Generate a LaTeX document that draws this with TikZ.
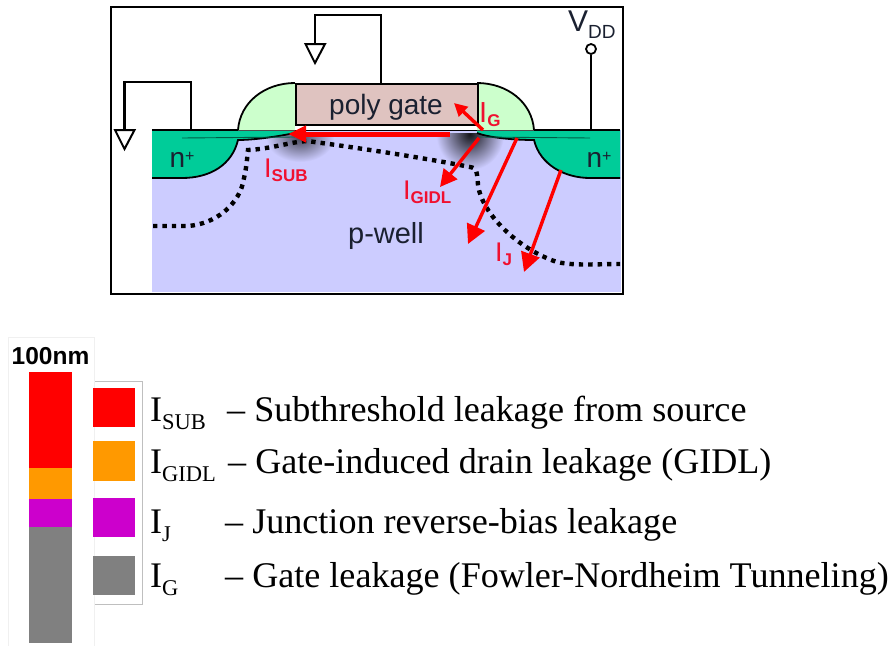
\documentclass[tikz,border=0pt]{standalone}
\usepackage{fontspec}
\setmainfont{Liberation Serif}
\setsansfont{Liberation Sans}
\usetikzlibrary{arrows.meta}
\definecolor{well}{HTML}{CCCCFF}
\definecolor{nplus}{HTML}{00CC99}
\definecolor{spacer}{HTML}{CCFFCC}
\definecolor{poly}{HTML}{DFC3C0}
\definecolor{cred}{HTML}{FF0000}
\definecolor{corange}{HTML}{FF9900}
\definecolor{cpurple}{HTML}{CC00CC}
\definecolor{cgray}{HTML}{808080}
\definecolor{lab}{HTML}{1A2030}
\definecolor{rlab}{HTML}{F01030}
\newcommand{\legI}[1]{\fontsize{36}{36}\selectfont I\raisebox{-8pt}{\fontsize{22.5}{22.5}\selectfont #1}}
\newcommand{\curI}[2]{\textcolor{rlab}{\sffamily\fontsize{#2}{#2}\selectfont I\raisebox{-4pt}{\fontsize{17}{17}\selectfont\textbf{#1}}}}
\tikzset{
  x=1pt,y=-1pt,
  wire/.style={draw=black,line width=2.5pt},
  edge/.style={draw=black,line width=1.8pt},
  curr/.style={draw=red,line width=3.4pt,-{Triangle[length=17pt,width=17pt]}},
  gnd/.style={draw=black,line width=2pt,fill=white,line join=miter},
  devlab/.style={text=lab,font=\sffamily\fontsize{28}{28}\selectfont,inner sep=0pt,anchor=base},
  swatch/.style={minimum width=42pt,minimum height=39pt,inner sep=0pt,anchor=north west,draw=none},
  leg/.style={anchor=base west,inner sep=0pt,text=black,font=\fontsize{36.1}{36.1}\selectfont},
}
\begin{document}
\begin{tikzpicture}
\useasboundingbox (0,0) rectangle (896,645);
\fill[white] (0,0) rectangle (896,645);
% frame
\node[draw=black,line width=2.2pt,fill=white,minimum width=512pt,minimum height=287pt,inner sep=0pt,anchor=north west] (frame) at (110,6) {};
% well
\fill[well] (152,130) rectangle (621,292);
% leak shadows
\begin{scope}
\clip (152,133) rectangle (621,292);
\shade[inner color=black!65!well,outer color=well] (300,138) ellipse (34 and 24);
\shade[inner color=black!90!well,outer color=well] (470,134) ellipse (34 and 36);
\end{scope}
% n+ regions
\fill[nplus] (152,130) -- (295,130) -- (295,133) .. controls (270,138) and (250,140) .. (238,140)
  .. controls (232,165) and (210,178) .. (182,178) -- (152,178) -- cycle;
\fill[nplus] (620,130) -- (477,130) -- (477,133) .. controls (490,138) and (515,140) .. (534,140)
  .. controls (540,165) and (565,178) .. (590,178) -- (620,178) -- cycle;
\draw[edge] (295,133) .. controls (270,138) and (250,140) .. (238,140) .. controls (232,165) and (210,178) .. (182,178) -- (152,178);
\draw[edge] (477,133) .. controls (490,138) and (515,140) .. (534,140) .. controls (540,165) and (565,178) .. (590,178) -- (620,178);
\draw[draw=black!55!nplus,line width=0.9pt] (182,138) -- (295,137);
\draw[draw=black!55!nplus,line width=0.9pt] (480,137) -- (590,138);
% spacers
\fill[spacer] (238,130) .. controls (240,102) and (265,83) .. (295,83) -- (295,130) -- cycle;
\fill[spacer] (534,130) .. controls (532,102) and (507,83) .. (477,83) -- (477,130) -- cycle;
\draw[edge] (238,130) .. controls (240,102) and (265,83) .. (295,83);
\draw[edge] (534,130) .. controls (532,102) and (507,83) .. (477,83);
% gate
\fill[white] (295,124) rectangle (477,130.5);
\node[draw=black,line width=2.2pt,fill=poly,minimum width=182pt,minimum height=41pt,inner sep=0pt,anchor=north west] (gate) at (295,83) {};
% surface lines
\draw[edge,line width=2.2pt] (152,130) -- (238,130);
\draw[edge,line width=2.2pt] (534,130) -- (620,130);
\draw[draw=black!70,line width=1pt] (238,130.5) -- (295,130.5) (477,130.5) -- (534,130.5);
\draw[draw=black,line width=1.2pt] (295,130.5) -- (477,130.5);
% wires
\coordinate (s1) at (191,130);
\coordinate (s2) at (124.5,130);
\draw[wire,line join=miter] (s1) -- (191,82) -- (124.5,82) -- (s2);
\draw[gnd] (115,130) -- (134.5,130) -- (124.5,149) -- cycle;
\coordinate (g1) at (381,83);
\coordinate (g2) at (315,44);
\draw[wire,line join=miter] (g1) -- (381,15) -- (315,15) -- (g2);
\draw[gnd] (305.5,44) -- (325,44) -- (315,63) -- cycle;
\coordinate (d1) at (591,130);
\node[circle,draw=black,line width=1.8pt,fill=white,minimum size=10pt,inner sep=0pt] (vdd) at (591,49) {};
\draw[wire] (d1) -- (vdd);
% dotted boundary
\draw[line width=4.4pt,dash pattern=on 4.4pt off 5pt,draw=black]
  (153,226) -- (188,226) .. controls (215,224) and (240,205) .. (244,178)
  .. controls (247,165) and (247,158) .. (248,150)
  .. controls (270,149) and (290,142) .. (307,141)
  .. controls (345,146) and (420,157) .. (470,167)
  .. controls (477,168) and (477,172) .. (478,185)
  .. controls (482,215) and (520,250) .. (557,262)
  .. controls (575,266) and (595,264) .. (620,264);
% currents
\coordinate (isub0) at (450,134); \coordinate (isub1) at (288,134);
\draw[curr,line width=5pt,-{Triangle[length=18pt,width=16pt]}] (isub0) -- (isub1);
\coordinate (ig0) at (483,130); \coordinate (ig1) at (454,103);
\coordinate (igi0) at (479,138); \coordinate (igi1) at (440,187);
\coordinate (ij0) at (517,138); \coordinate (ij1) at (468,244);
\coordinate (ik0) at (561,170); \coordinate (ik1) at (524,272);
\draw[curr,-{Triangle[length=13pt,width=13pt]}] (ig0) -- (ig1);
\draw[curr,-{Triangle[length=17pt,width=17pt]}] (igi0) -- (igi1);
\draw[curr,-{Triangle[length=19pt,width=19pt]}] (ij0) -- (ij1);
\draw[curr,-{Triangle[length=19pt,width=19pt]}] (ik0) -- (ik1);
% device labels
\node[devlab] (polyl) at (386,114) {poly gate};
\node[devlab] (n1) at (182,167) {n\raisebox{6pt}{\fontsize{16}{16}\selectfont +}};
\node[devlab] (n2) at (599,167) {n\raisebox{6pt}{\fontsize{16}{16}\selectfont +}};
\node[devlab,font=\sffamily\fontsize{29}{29}\selectfont] (pw) at (386,243) {p-well};
\node[anchor=base west,inner sep=0pt] (vddl) at (568,31) {\color{lab}\sffamily\fontsize{30}{30}\selectfont V\raisebox{-7pt}{\fontsize{19}{19}\selectfont DD}};
\node[anchor=base west,inner sep=0pt] (lsub) at (264,177) {\curI{SUB}{27}};
\node[anchor=base west,inner sep=0pt] (lgidl) at (403,199) {\curI{GIDL}{27}};
\node[anchor=base west,inner sep=0pt] (lg) at (479,122) {\curI{G}{29}};
\node[anchor=base west,inner sep=0pt] (lj) at (495,261) {\curI{J}{27}};
% bar panel
\node[draw=black!6,line width=0.6pt,fill=white,minimum width=86pt,minimum height=310pt,inner sep=0pt,anchor=north west] (panel) at (8,337) {};
\node[inner sep=0pt,anchor=base] (nm) at (50.5,364) {\sffamily\bfseries\fontsize{24.5}{24.5}\selectfont 100nm};
\fill[cred] (29,372) rectangle (72,468);
\fill[corange] (29,468) rectangle (72,499);
\fill[cpurple] (29,499) rectangle (72,527);
\fill[cgray] (29,527) rectangle (72,643);
% legend
\draw[draw=black!25,line width=0.8pt] (95,381) -- (142,381) -- (142,604) -- (95,604);
\node[swatch,fill=cred] (k1) at (93,388) {};
\node[swatch,fill=corange,minimum height=40pt] (k2) at (93,441) {};
\node[swatch,fill=cpurple] (k3) at (93,498) {};
\node[swatch,fill=cgray] (k4) at (93,556) {};
\node[leg] (t1) at (150,421) {\legI{SUB}};
\node[leg] (t2) at (150,473) {\legI{GIDL}};
\node[leg] (t3) at (150,533) {\legI{J}};
\node[leg] (t4) at (150,587) {\legI{G}};
\node[leg] (d1t) at (227,421) {– Subthreshold leakage from source};
\node[leg] (d2t) at (228,473) {– Gate-induced drain leakage (GIDL)};
\node[leg] (d3t) at (225,533) {– Junction reverse-bias leakage};
\node[leg] (d4t) at (225,587) {– Gate leakage (Fowler-Nordheim Tunneling)};
\end{tikzpicture}
\end{document}
